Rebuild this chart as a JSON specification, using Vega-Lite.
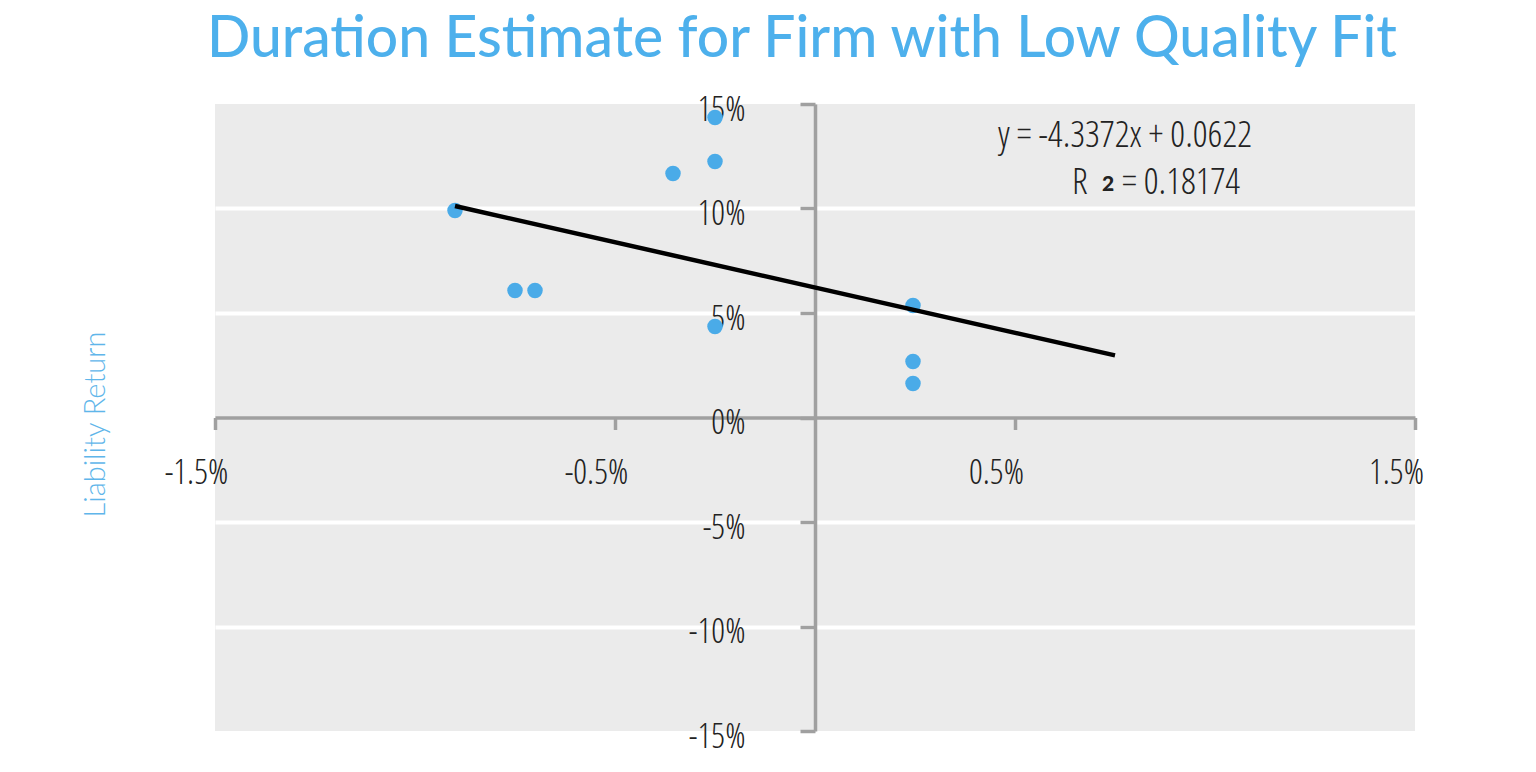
{
  "$schema": "https://vega.github.io/schema/vega-lite/v6.json",
  "autosize": {"type": "none"},
  "padding": {"left": 215, "top": 104, "right": 121, "bottom": 41},
  "width": 1200,
  "height": 627,
  "background": "white",
  "title": {
    "text": "Duration Estimate for Firm with Low Quality Fit",
    "font": "Lato",
    "fontSize": 57,
    "fontWeight": 500,
    "color": "#4DB0EC",
    "anchor": "middle",
    "frame": "group",
    "baseline": "alphabetic",
    "offset": -22,
    "dx": -13
  },
  "config": {
    "view": {"fill": "#EBEBEB", "stroke": null}
  },
  "encoding": {
    "x": {
      "field": "x",
      "type": "quantitative",
      "scale": {"domain": [-0.015, 0.015], "nice": false, "zero": false},
      "axis": {
        "orient": "bottom",
        "offset": -313.5,
        "values": [-0.015, -0.005, 0.005, 0.015],
        "format": ".1%",
        "labelExpr": "replace(datum.label, '−', '-')",
        "title": null,
        "grid": false,
        "domainColor": "#A0A0A0",
        "domainWidth": 3.5,
        "tickColor": "#A0A0A0",
        "tickWidth": 3.5,
        "tickSize": 12,
        "labelFont": "'Open Sans Condensed Light'",
        "labelFontWeight": 300,
        "labelFontSize": 34.5,
        "labelColor": "#222222",
        "labelPadding": 27,
        "labelOffset": -19,
        "labelFlush": false,
        "labelOverlap": false,
        "labelBaseline": "top"
      }
    },
    "y": {
      "field": "y",
      "type": "quantitative",
      "scale": {"domain": [-0.15, 0.15], "nice": false, "zero": false},
      "axis": {
        "orient": "left",
        "offset": -600,
        "values": [-0.15, -0.1, -0.05, 0, 0.05, 0.1, 0.15],
        "format": ".0%",
        "labelExpr": "replace(datum.label, '−', '-')",
        "title": "Liability Return",
        "titleFont": "Lato",
        "titleFontWeight": 300,
        "titleFontSize": 29,
        "titleColor": "#5FB6EA",
        "titleX": -720,
        "titleY": 320,
        "titleAngle": -90,
        "titleAlign": "center",
        "titleBaseline": "middle",
        "grid": true,
        "gridColor": {"condition": {"test": "abs(datum.value) > 0.12 || datum.value == 0", "value": "transparent"}, "value": "#FFFFFF"},
        "gridWidth": 4,
        "domainColor": "#A0A0A0",
        "domainWidth": 3.5,
        "tickColor": "#A0A0A0",
        "tickWidth": 3.5,
        "tickSize": 15,
        "labelFont": "'Open Sans Condensed Light'",
        "labelFontWeight": 300,
        "labelFontSize": 34.5,
        "labelColor": "#222222",
        "labelPadding": 55,
        "labelOffset": 6,
        "labelFlush": false,
        "labelOverlap": false,
        "labelBaseline": "middle"
      }
    }
  },
  "layer": [
    {
      "data": {"values": [
        {"x": -0.009, "y": 0.099},
        {"x": -0.0075, "y": 0.0608},
        {"x": -0.007, "y": 0.0608},
        {"x": -0.00355, "y": 0.1167},
        {"x": -0.0025, "y": 0.1435},
        {"x": -0.0025, "y": 0.1225},
        {"x": -0.0025, "y": 0.0435},
        {"x": 0.00245, "y": 0.0536},
        {"x": 0.00245, "y": 0.0268},
        {"x": 0.00245, "y": 0.0163}
      ]},
      "mark": {"type": "circle", "size": 240, "color": "#4AABE8", "opacity": 1}
    },
    {
      "data": {"values": [
        {"x": -0.009, "y": 0.1012},
        {"x": 0.0075, "y": 0.0297}
      ]},
      "mark": {"type": "line", "color": "#000000", "strokeWidth": 4.5}
    },
    {
      "data": {"values": [
        {"x": 0.00775, "y": 0.1292, "label": "y = -4.3372x + 0.0622"}
      ]},
      "mark": {"type": "text", "font": "'Open Sans Condensed Light'", "fontWeight": 300, "fontSize": 37, "color": "#222222", "align": "center", "baseline": "alphabetic"},
      "encoding": {"text": {"field": "label"}}
    },
    {
      "data": {"values": [
        {"x": 0.006425, "y": 0.1067, "label": "R"},
        {"x": 0.007675, "y": 0.1067, "label": "= 0.18174"}
      ]},
      "mark": {"type": "text", "font": "'Open Sans Condensed Light'", "fontWeight": 300, "fontSize": 37, "color": "#222222", "align": "left", "baseline": "alphabetic"},
      "encoding": {"text": {"field": "label"}}
    },
    {
      "data": {"values": [
        {"x": 0.007175, "y": 0.1086, "label": "2"}
      ]},
      "mark": {"type": "text", "font": "Lato", "fontSize": 21, "fontWeight": 900, "color": "#222222", "align": "left", "baseline": "alphabetic"},
      "encoding": {"text": {"field": "label"}}
    }
  ]
}
